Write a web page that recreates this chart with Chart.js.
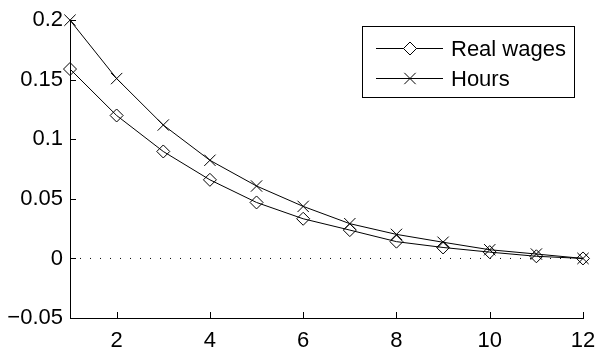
<!DOCTYPE html>
<html>
<head>
<meta charset="utf-8">
<script src="https://cdn.jsdelivr.net/npm/chart.js@4/dist/chart.umd.min.js"></script>
<style>
  html, body { margin: 0; padding: 0; background: #fff; }
  #wrap { width: 608px; height: 355px; position: relative; }
</style>
</head>
<body>
<div id="wrap"><canvas id="irf"></canvas></div>
<script>
// horizon (periods after the shock)
const periods = [1, 2, 3, 4, 5, 6, 7, 8, 9, 10, 11, 12];
const realWages = [0.159, 0.120, 0.0898, 0.066, 0.047, 0.0333, 0.0238, 0.0141, 0.0092, 0.0053, 0.0018, 0];
const hours = [0.200, 0.151, 0.112, 0.0824, 0.0608, 0.0437, 0.0292, 0.0202, 0.0136, 0.0073, 0.0037, 0];
const zeroLine = [0, 0];
const xTicks = [2, 4, 6, 8, 10, 12];
const yTicks = [-0.05, 0, 0.05, 0.1, 0.15, 0.2];
const yTickLabels = ['\u22120.05', '0', '0.05', '0.1', '0.15', '0.2'];

const FONT = 'Arial, "Liberation Sans", Helvetica, sans-serif';
const FONT_SIZE = 22;
const toPoints = ys => ys.map((y, i) => ({ x: periods[i], y }));

// MATLAB-style inward tick marks on the left and bottom axes
const innerTicks = {
  id: 'innerTicks',
  afterDraw(chart) {
    const { ctx, chartArea: a, scales: { x, y } } = chart;
    ctx.save();
    ctx.strokeStyle = '#000';
    ctx.lineWidth = 1;
    ctx.beginPath();
    xTicks.forEach(v => {
      const px = Math.round(x.getPixelForValue(v)) + 0.5;
      ctx.moveTo(px, a.bottom);
      ctx.lineTo(px, a.bottom - 6);
    });
    yTicks.forEach(v => {
      const py = Math.round(y.getPixelForValue(v)) + 0.5;
      ctx.moveTo(a.left, py);
      ctx.lineTo(a.left + 6, py);
    });
    ctx.stroke();
    ctx.restore();
  }
};

// boxed legend with line + marker samples
const boxLegend = {
  id: 'boxLegend',
  afterDraw(chart) {
    const { ctx } = chart;
    const items = chart.data.datasets.filter(d => d.label);
    const box = { x: 362.5, y: 26.5, w: 212, h: 71 };
    ctx.save();
    ctx.fillStyle = '#fff';
    ctx.fillRect(box.x, box.y, box.w, box.h);
    ctx.strokeStyle = '#000';
    ctx.lineWidth = 1;
    ctx.strokeRect(box.x, box.y, box.w, box.h);
    ctx.font = FONT_SIZE + 'px ' + FONT;
    ctx.textBaseline = 'middle';
    items.forEach((d, i) => {
      const cy = 48.5 + i * 30;
      ctx.strokeStyle = '#000';
      ctx.lineWidth = 1;
      ctx.beginPath();
      ctx.moveTo(376, cy);
      ctx.lineTo(443, cy);
      ctx.stroke();
      Chart.helpers.drawPoint(ctx, {
        pointStyle: d.pointStyle,
        radius: d.pointRadius,
        borderWidth: 1
      }, 410, cy);
      ctx.fillStyle = '#000';
      ctx.fillText(d.label, 451, cy + 1);
    });
    ctx.restore();
  }
};

new Chart(document.getElementById('irf'), {
  type: 'line',
  data: {
    datasets: [
      {
        label: 'Real wages',
        data: toPoints(realWages),
        borderColor: '#000',
        borderWidth: 1,
        pointStyle: 'rectRot',
        pointRadius: 6.5,
        pointBorderWidth: 1,
        pointBorderColor: '#000',
        pointBackgroundColor: 'rgba(0,0,0,0)',
        tension: 0,
        clip: false
      },
      {
        label: 'Hours',
        data: toPoints(hours),
        borderColor: '#000',
        borderWidth: 1,
        pointStyle: 'crossRot',
        pointRadius: 8,
        pointBorderWidth: 1,
        pointBorderColor: '#000',
        tension: 0,
        clip: false
      },
      {
        data: [{ x: periods[0], y: zeroLine[0] }, { x: periods[periods.length - 1], y: zeroLine[1] }],
        borderColor: '#000',
        borderWidth: 1,
        borderDash: [1, 9],
        pointRadius: 0,
        clip: false,
        order: 5
      }
    ]
  },
  options: {
    responsive: true,
    maintainAspectRatio: false,
    animation: false,
    events: [],
    layout: { padding: { top: 14, right: 25, left: 0, bottom: 0 } },
    plugins: {
      legend: { display: false },
      tooltip: { enabled: false }
    },
    scales: {
      x: {
        type: 'linear',
        min: 1,
        max: 12,
        afterBuildTicks: s => { s.ticks = xTicks.map(v => ({ value: v })); },
        afterFit: s => { s.height = 37; },
        grid: { display: false, drawTicks: false },
        border: { display: true, color: '#000', width: 1 },
        ticks: { color: '#000', font: { family: FONT, size: FONT_SIZE }, padding: 10, maxRotation: 0 }
      },
      y: {
        type: 'linear',
        min: -0.05,
        max: 0.2,
        afterBuildTicks: s => { s.ticks = yTicks.map(v => ({ value: v })); },
        afterFit: s => { s.width = 70; },
        grid: { display: false, drawTicks: false },
        border: { display: true, color: '#000', width: 1 },
        ticks: {
          color: '#000',
          font: { family: FONT, size: FONT_SIZE },
          padding: 7,
          callback: v => yTickLabels[yTicks.findIndex(t => Math.abs(t - v) < 1e-9)]
        }
      }
    }
  },
  plugins: [innerTicks, boxLegend]
});
</script>
</body>
</html>
